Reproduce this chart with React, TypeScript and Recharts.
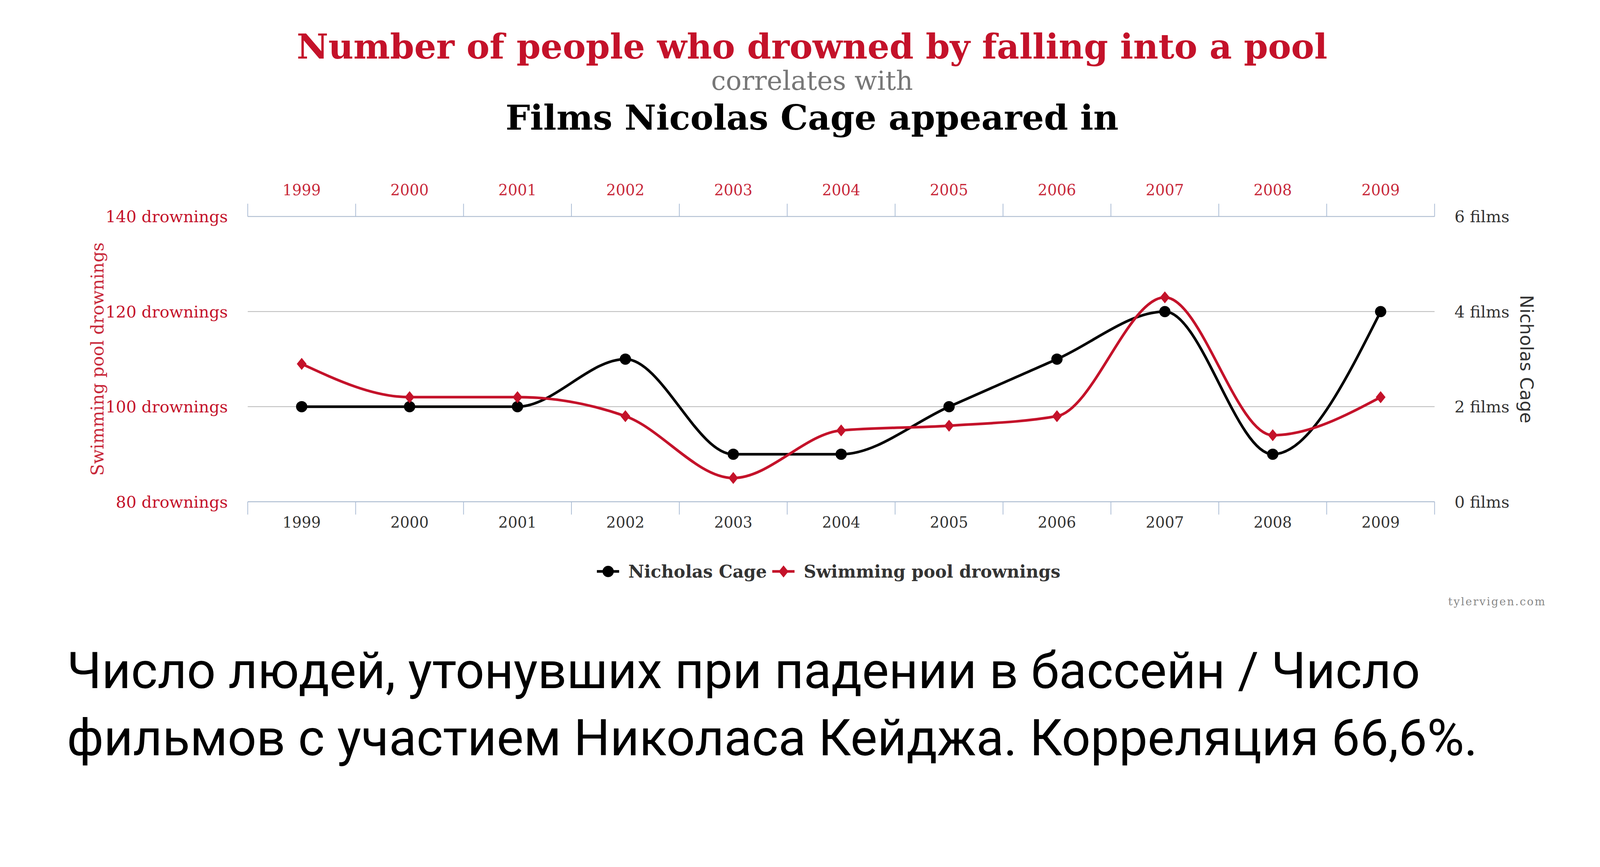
import { LineChart, Line, XAxis, YAxis, CartesianGrid, Legend } from 'recharts'

// data
const years = ['1999', '2000', '2001', '2002', '2003', '2004', '2005', '2006', '2007', '2008', '2009']
const cageFilms = [2, 2, 2, 3, 1, 1, 2, 3, 4, 1, 4]
const poolDrownings = [109, 102, 102, 98, 85, 95, 96, 98, 123, 94, 102]
const drowningTicks = [80, 100, 120, 140]
const filmTicks = [0, 2, 4, 6]

const data = years.map((year, i) => ({
  year,
  cage: cageFilms[i],
  drownings: poolDrownings[i],
}))

// the photo comes out ~4% larger than css px, so sizes are given in photo px and scaled down
const K = 4096 / 4256
const px = (v: number) => v * K

const RED = '#c4122a'
const LABEL_RED = '#c8283a'
const DARK = '#333333'
const AXIS_BLUE = '#a9bbd4'
const GRID_GREY = '#b8b8b8'
const SERIF = '"DejaVu Serif", serif'
const SANS = '"DejaVu Sans", sans-serif'

const CHART_W = px(4256)
const CHART_H = px(1640)
const LEFT_AXIS_W = px(659)
const RIGHT_AXIS_W = px(440)
const BAND = (CHART_W - LEFT_AXIS_W - RIGHT_AXIS_W) / years.length

const YearTick = (props: any) => {
  const { x, y, payload, index, side } = props
  const up = side === 'top'
  const dir = up ? -1 : 1
  const left = x - BAND / 2
  const right = x + BAND / 2
  return (
    <g>
      <line x1={left} x2={left} y1={y} y2={y + dir * px(34)} stroke={AXIS_BLUE} strokeWidth={px(2)} />
      {index === years.length - 1 && (
        <line x1={right} x2={right} y1={y} y2={y + dir * px(34)} stroke={AXIS_BLUE} strokeWidth={px(2)} />
      )}
      <text
        x={x}
        y={up ? y - px(70) : y + px(55)}
        textAnchor="middle"
        dominantBaseline="central"
        fill={up ? LABEL_RED : DARK}
        fontSize={px(40)}
        fontFamily={SERIF}
      >
        {payload.value}
      </text>
    </g>
  )
}

const AxisTitle = (props: any) => {
  const { viewBox, text, dx, angle, fill, fontFamily, size } = props
  const vb = viewBox ?? {}
  const cx = (vb.x ?? 0) + dx
  const cy = (vb.y ?? px(576)) + (vb.height ?? px(759)) / 2
  return (
    <text
      x={cx}
      y={cy}
      transform={`rotate(${angle} ${cx} ${cy})`}
      textAnchor="middle"
      dominantBaseline="central"
      fill={fill}
      fontSize={size}
      fontFamily={fontFamily}
    >
      {text}
    </text>
  )
}

const LegendIcon = ({ color, shape }: { color: string; shape: string }) => (
  <svg width={px(60)} height={px(40)} viewBox="0 0 60 40">
    <line x1={0} x2={60} y1={20} y2={20} stroke={color} strokeWidth={7} />
    {shape === 'circle' ? (
      <circle cx={30} cy={20} r={15} fill={color} />
    ) : (
      <path d="M30,4 L43,20 L30,36 L17,20 Z" fill={color} />
    )}
  </svg>
)

const renderLegend = (props: any) => {
  const payload = props.payload ?? []
  return (
    <div
      style={{
        height: px(100),
        display: 'flex',
        alignItems: 'center',
        justifyContent: 'center',
        paddingLeft: px(166),
        boxSizing: 'border-box',
        fontFamily: SERIF,
        fontWeight: 'bold',
        fontSize: px(46),
        color: DARK,
      }}
    >
      {payload.map((entry: any) => (
        <span
          key={entry.value}
          style={{ display: 'flex', alignItems: 'center', marginRight: px(14) }}
        >
          <LegendIcon
            color={entry.color}
            shape={entry.dataKey === 'cage' ? 'circle' : 'diamond'}
          />
          <span style={{ marginLeft: px(24) }}>{entry.value}</span>
        </span>
      ))}
    </div>
  )
}

const CageDot = (props: any) => (
  <circle key={`cage-${props.index}`} cx={props.cx} cy={props.cy} r={px(15)} fill="#000000" />
)

const PoolDot = (props: any) => {
  const { cx, cy } = props
  const h = px(16)
  const w = px(13)
  return (
    <path
      key={`pool-${props.index}`}
      d={`M${cx},${cy - h} L${cx + w},${cy} L${cx},${cy + h} L${cx - w},${cy} Z`}
      fill={RED}
    />
  )
}

const titleStyle = {
  position: 'absolute' as const,
  left: 0,
  width: px(4320),
  textAlign: 'center' as const,
  fontFamily: SERIF,
  lineHeight: 1,
  whiteSpace: 'nowrap' as const,
}

export default function App() {
  return (
    <div
      style={{
        position: 'absolute',
        left: 0,
        top: 0,
        width: px(4256),
        height: px(2220),
        background: '#ffffff',
        overflow: 'hidden',
      }}
    >
      <LineChart
        width={CHART_W}
        height={CHART_H}
        data={data}
        margin={{ top: px(400), right: 0, bottom: px(70), left: 0 }}
      >
        <CartesianGrid
          yAxisId="left"
          xAxisId="bottom"
          vertical={false}
          stroke={GRID_GREY}
          strokeWidth={px(2)}
        />

        <XAxis
          xAxisId="top"
          orientation="top"
          dataKey="year"
          scale="band"
          height={px(176)}
          interval={0}
          axisLine={{ stroke: AXIS_BLUE, strokeWidth: px(2) }}
          tickLine={false}
          tickSize={0}
          tickMargin={0}
          tick={(p: any) => <YearTick {...p} side="top" />}
        />
        <XAxis
          xAxisId="bottom"
          orientation="bottom"
          dataKey="year"
          scale="band"
          height={px(135)}
          interval={0}
          axisLine={{ stroke: AXIS_BLUE, strokeWidth: px(2) }}
          tickLine={false}
          tickSize={0}
          tickMargin={0}
          tick={(p: any) => <YearTick {...p} side="bottom" />}
        />

        <YAxis
          yAxisId="left"
          orientation="left"
          width={LEFT_AXIS_W}
          domain={[80, 140]}
          ticks={drowningTicks}
          tickFormatter={(v: number) => `${v} drownings`}
          axisLine={false}
          tickLine={false}
          tickSize={0}
          tickMargin={px(53)}
          tick={{ fill: RED, fontSize: px(43), fontFamily: SERIF }}
          label={(p: any) => (
            <AxisTitle
              {...p}
              text="Swimming pool drownings"
              dx={px(259)}
              angle={-90}
              fill={LABEL_RED}
              fontFamily={SERIF}
              size={px(46)}
            />
          )}
        />
        <YAxis
          yAxisId="right"
          orientation="right"
          width={RIGHT_AXIS_W}
          domain={[0, 6]}
          ticks={filmTicks}
          tickFormatter={(v: number) => `${v} films`}
          axisLine={false}
          tickLine={false}
          tickSize={0}
          tickMargin={px(53)}
          tick={{ fill: DARK, fontSize: px(43), fontFamily: SERIF }}
          label={(p: any) => (
            <AxisTitle
              {...p}
              text="Nicholas Cage"
              dx={px(245)}
              angle={90}
              fill={DARK}
              fontFamily={SANS}
              size={px(48)}
            />
          )}
        />

        <Legend verticalAlign="bottom" content={renderLegend} />

        <Line
          xAxisId="bottom"
          yAxisId="right"
          type="monotone"
          dataKey="cage"
          name="Nicholas Cage"
          stroke="#000000"
          strokeWidth={px(7)}
          dot={CageDot}
          activeDot={false}
          isAnimationActive={false}
        />
        <Line
          xAxisId="bottom"
          yAxisId="left"
          type="monotone"
          dataKey="drownings"
          name="Swimming pool drownings"
          stroke={RED}
          strokeWidth={px(7)}
          dot={PoolDot}
          activeDot={false}
          isAnimationActive={false}
        />
      </LineChart>

      <div style={{ ...titleStyle, top: px(78), fontWeight: 'bold', fontSize: px(92), color: RED }}>
        Number of people who drowned by falling into a pool
      </div>
      <div style={{ ...titleStyle, top: px(180), fontSize: px(70), color: '#777777' }}>
        correlates with
      </div>
      <div style={{ ...titleStyle, top: px(267), fontWeight: 'bold', fontSize: px(92), color: '#000000' }}>
        Films Nicolas Cage appeared in
      </div>

      <div
        style={{
          position: 'absolute',
          left: px(3852),
          top: px(1587),
          fontFamily: SERIF,
          fontSize: px(29),
          lineHeight: 1,
          letterSpacing: px(3),
          color: '#888888',
          whiteSpace: 'nowrap',
        }}
      >
        tylervigen.com
      </div>

      <div
        style={{
          position: 'absolute',
          left: px(178),
          top: px(1718),
          fontFamily: 'Roboto, sans-serif',
          fontSize: px(135),
          color: '#000000',
          whiteSpace: 'nowrap',
        }}
      >
        <div style={{ height: px(178), lineHeight: `${px(135)}px` }}>
          Число людей, утонувших при падении в бассейн / Число
        </div>
        <div style={{ height: px(178), lineHeight: `${px(135)}px` }}>
          фильмов с участием Николаса Кейджа. Корреляция 66,6%.
        </div>
      </div>
    </div>
  )
}
